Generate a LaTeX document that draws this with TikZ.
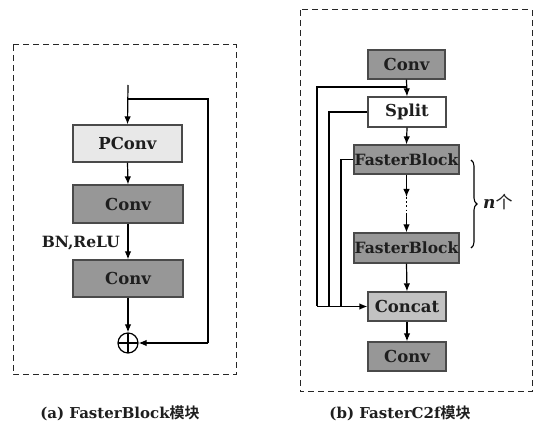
\documentclass[tikz,border=0pt]{standalone}
\usepackage{fontspec}
\setmainfont{DejaVu Serif}
\newfontfamily\cjk{Noto Sans CJK SC}[BoldFont={* Bold}]
\usetikzlibrary{arrows.meta,decorations.pathreplacing}
\definecolor{lightbox}{HTML}{E8E8E8}
\definecolor{darkbox}{HTML}{979797}
\definecolor{midbox}{HTML}{C2C2C2}
\definecolor{edge}{HTML}{4A4A4A}
\definecolor{ink}{HTML}{1E1E1E}
\begin{document}
\begin{tikzpicture}[x=1pt,y=-1pt,
  blk/.style={draw=edge,line width=1.2pt,inner sep=0pt,text=ink,font=\fontsize{16.5}{18}\selectfont\bfseries},
  fbk/.style={blk,font=\fontsize{15.5}{18}\selectfont\bfseries},
  conn/.style={line width=1.2pt,black},
  arr/.style={conn,-{Latex[length=8pt,width=6.5pt]}},
  frame/.style={line width=1pt,dash pattern=on 6pt off 4pt,black!85}]
\useasboundingbox (0,0) rectangle (542,425);
% frames
\draw[frame] (13,45) rectangle (236,375);
\draw[frame] (300,10) rectangle (532,392);
% left diagram
\node[blk,fill=lightbox,minimum width=109pt,minimum height=37pt] (pconv) at (127.5,143.5) {PConv};
\node[blk,fill=darkbox,minimum width=110pt,minimum height=38pt] (conva) at (128,204) {Conv};
\node[blk,fill=darkbox,minimum width=110pt,minimum height=37pt] (convb) at (128,278.5) {Conv};
\node[circle,draw=black,line width=1.2pt,minimum size=20pt,inner sep=0pt,
  path picture={\draw[line width=1.2pt] (path picture bounding box.north) -- (path picture bounding box.south)
  (path picture bounding box.west) -- (path picture bounding box.east);}] (plus) at (128,343) {};
\coordinate (in) at (128,85);
\coordinate (split) at (128,99);
\coordinate (fbr) at (208,99);
\coordinate (fbb) at (208,343);
\draw[arr] (in) -- (pconv.north);
\draw[conn] (split) -- (fbr) -- (fbb);
\draw[arr] (fbb) -- (plus.east);
\draw[arr] (pconv.south) -- (conva.north);
\draw[arr] (conva.south) -- (convb.north);
\draw[arr] (convb.south) -- (plus.north);
\node[font=\fontsize{15.5}{17}\selectfont\bfseries,text=ink,anchor=east,inner sep=0pt] (bn) at (120,243) {BN,ReLU};
% right diagram
\node[blk,fill=darkbox,minimum width=77pt,minimum height=29pt] (c1) at (406.5,64.5) {Conv};
\node[blk,fill=white,minimum width=78pt,minimum height=30pt] (sp) at (407,112) {Split};
\node[fbk,fill=darkbox,minimum width=105pt,minimum height=29pt] (fb1) at (406.5,159.5) {FasterBlock};
\node[fbk,fill=darkbox,minimum width=105pt,minimum height=30pt] (fb2) at (406.5,248) {FasterBlock};
\node[blk,fill=midbox,minimum width=78pt,minimum height=29pt] (cat) at (407,306.5) {Concat};
\node[blk,fill=darkbox,minimum width=78pt,minimum height=29pt] (c2) at (407,356.5) {Conv};
\coordinate (j1) at (406.5,87);
\coordinate (l1) at (317,87);
\coordinate (l1b) at (317,306.5);
\coordinate (l2) at (329,112);
\coordinate (l2b) at (329,306.5);
\coordinate (l3) at (341,159.5);
\coordinate (l3b) at (341,306.5);
\coordinate (d1) at (406.5,197);
\coordinate (d2) at (406.5,213);
\draw[arr] (c1.south) -- (sp.north);
\draw[arr] (sp.south) -- (fb1.north);
\draw[arr] (fb1.south) -- (d1);
\draw[line width=1.6pt,dash pattern=on 1.6pt off 2.6pt] (d1) -- (d2);
\draw[arr] (d2) -- (fb2.north);
\draw[arr] (fb2.south) -- (cat.north);
\draw[arr] (cat.south) -- (c2.north);
\draw[conn] (j1) -- (l1) -- (l1b);
\draw[conn] (sp.west) -- (l2) -- (l2b);
\draw[conn] (fb1.west) -- (l3) -- (l3b);
\draw[arr] (l1b) -- (cat.west);
\coordinate (b1) at (471,160);
\coordinate (b2) at (471,248);
\draw[line width=1.1pt,decorate,decoration={brace,amplitude=6pt}] (b1) -- (b2);
\node[font=\fontsize{17}{19}\selectfont,text=ink,anchor=west,inner sep=0pt] (nn) at (483,202) {\textbf{\textit{n}}{\cjk 个}};
% captions
\node[font=\fontsize{15}{17}\selectfont\bfseries,text=ink] (capa) at (120,413) {(a) FasterBlock{\cjk 模块}};
\node[font=\fontsize{15}{17}\selectfont\bfseries,text=ink] (capb) at (400,413) {(b) FasterC2f{\cjk 模块}};
\end{tikzpicture}
\end{document}
